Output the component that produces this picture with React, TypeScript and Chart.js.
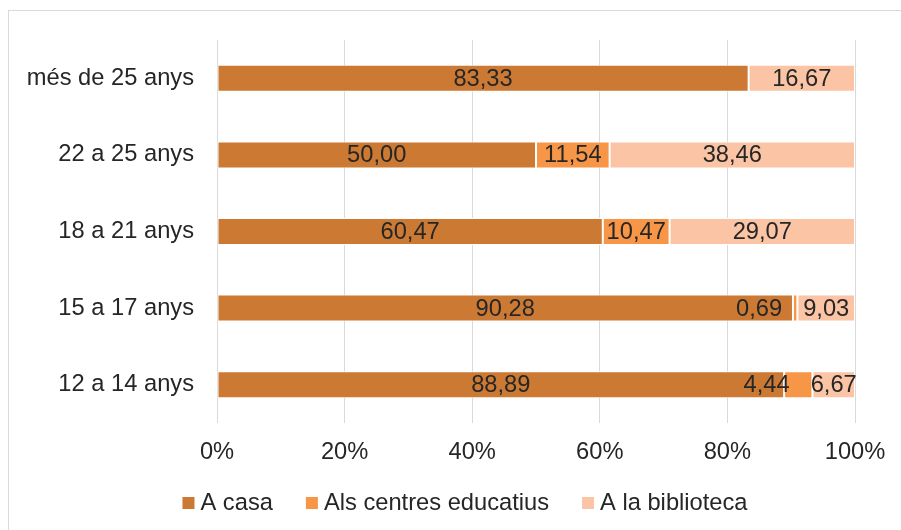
import React, { useEffect, useRef } from 'react';
import { Chart, registerables } from 'chart.js';

Chart.register(...registerables);

const categories = ['més de 25 anys', '22 a 25 anys', '18 a 21 anys', '15 a 17 anys', '12 a 14 anys'];
const seriesNames = ['A casa', 'Als centres educatius', 'A la biblioteca'];
const aCasa = [83.33, 50.0, 60.47, 90.28, 88.89];
const alsCentres = [0, 11.54, 10.47, 0.69, 4.44];
const aLaBiblioteca = [16.67, 38.46, 29.07, 9.03, 6.67];
const xTickValues = [0, 20, 40, 60, 80, 100];
const seriesColors = ['#CC7A33', '#F79646', '#FAC4A5'];

const FONT = "'Liberation Sans', Arial, sans-serif";
const TEXT = '#262626';
const GRID = '#D9D9D9';
const FS = 23.7;

const fmt = (v: number) => v.toFixed(2).replace('.', ',');

const framePlugin = {
  id: 'frame',
  beforeDraw(chart: any) {
    const ctx = chart.ctx;
    ctx.save();
    ctx.fillStyle = '#ffffff';
    ctx.fillRect(0, 0, chart.width, chart.height);
    ctx.strokeStyle = GRID;
    ctx.lineWidth = 1;
    ctx.strokeRect(8.5, 10.5, 913, 560);
    ctx.restore();
  },
};

const LABEL_GAP = 21;
const valueLabelPlugin = {
  id: 'valueLabels',
  afterDatasetsDraw(chart: any) {
    const ctx = chart.ctx;
    ctx.save();
    ctx.font = `${FS}px ${FONT}`;
    ctx.fillStyle = TEXT;
    ctx.textBaseline = 'middle';
    ctx.textAlign = 'left';
    const n = chart.data.labels.length;
    for (let i = 0; i < n; i++) {
      const items: any[] = [];
      chart.data.datasets.forEach((ds: any, d: number) => {
        const v = ds.data[i];
        if (!v) return;
        const el = chart.getDatasetMeta(d).data[i];
        const cx = (el.x + el.base) / 2;
        const text = fmt(v);
        const w = ctx.measureText(text).width;
        items.push({ text, left: cx - w / 2, w, y: el.y });
      });
      for (let k = items.length - 2; k >= 0; k--) {
        const cur = items[k];
        const next = items[k + 1];
        if (cur.left + cur.w > next.left - LABEL_GAP) {
          cur.left = next.left - LABEL_GAP - cur.w;
        }
      }
      items.forEach((it) => ctx.fillText(it.text, it.left, it.y + 1));
    }
    ctx.restore();
  },
};

const LEGEND_CX = 465;
const LEGEND_Y = 503;
const legendPlugin = {
  id: 'customLegend',
  afterDraw(chart: any) {
    const ctx = chart.ctx;
    ctx.save();
    ctx.font = `${FS}px ${FONT}`;
    ctx.textBaseline = 'middle';
    ctx.textAlign = 'left';
    const box = 12;
    const boxGap = 6;
    const itemGap = 33;
    const items = chart.data.datasets.map((ds: any) => ({
      label: ds.label,
      color: ds.backgroundColor,
      w: ctx.measureText(ds.label).width,
    }));
    const total =
      items.reduce((s: number, it: any) => s + box + boxGap + it.w, 0) + itemGap * (items.length - 1);
    let x = LEGEND_CX - total / 2;
    items.forEach((it: any) => {
      ctx.fillStyle = it.color;
      ctx.fillRect(x, LEGEND_Y - box / 2, box, box);
      ctx.fillStyle = TEXT;
      ctx.fillText(it.label, x + box + boxGap, LEGEND_Y);
      x += box + boxGap + it.w + itemGap;
    });
    ctx.restore();
  },
};

export default function App() {
  const canvasRef = useRef<HTMLCanvasElement | null>(null);

  useEffect(() => {
    if (!canvasRef.current) return;
    const seriesData = [aCasa, alsCentres, aLaBiblioteca];
    const chart = new Chart(canvasRef.current, {
      type: 'bar',
      data: {
        labels: categories,
        datasets: seriesNames.map((name, i) => ({
          label: name,
          data: seriesData[i],
          backgroundColor: seriesColors[i],
          borderColor: '#ffffff',
          borderWidth: 1,
          borderSkipped: false,
          barPercentage: 0.353,
          categoryPercentage: 1,
        })),
      },
      options: {
        indexAxis: 'y',
        responsive: false,
        animation: false,
        devicePixelRatio: 1,
        layout: { padding: { top: 40, right: 46, left: 0, bottom: 57 } },
        plugins: {
          legend: { display: false },
          tooltip: { enabled: false },
        },
        scales: {
          x: {
            stacked: true,
            min: 0,
            max: 100,
            afterBuildTicks(scale: any) {
              scale.ticks = xTickValues.map((v) => ({ value: v }));
            },
            afterFit(scale: any) {
              scale.height = 50;
            },
            ticks: {
              padding: 15,
              color: TEXT,
              font: { family: FONT, size: FS },
              callback: (v: any) => `${v}%`,
            },
            grid: { color: GRID, lineWidth: 1, drawTicks: false },
            border: { display: false },
          },
          y: {
            stacked: true,
            afterFit(scale: any) {
              scale.width = 217;
            },
            ticks: {
              padding: 23,
              color: TEXT,
              font: { family: FONT, size: FS },
            },
            grid: { display: false, drawTicks: false },
            border: { display: false },
          },
        },
      },
      plugins: [framePlugin, valueLabelPlugin, legendPlugin],
    });
    return () => chart.destroy();
  }, []);

  return (
    <div style={{ position: 'fixed', left: 0, top: 0, width: 901, height: 530 }}>
      <canvas ref={canvasRef} width={901} height={530} style={{ width: 901, height: 530, display: 'block' }} />
    </div>
  );
}
